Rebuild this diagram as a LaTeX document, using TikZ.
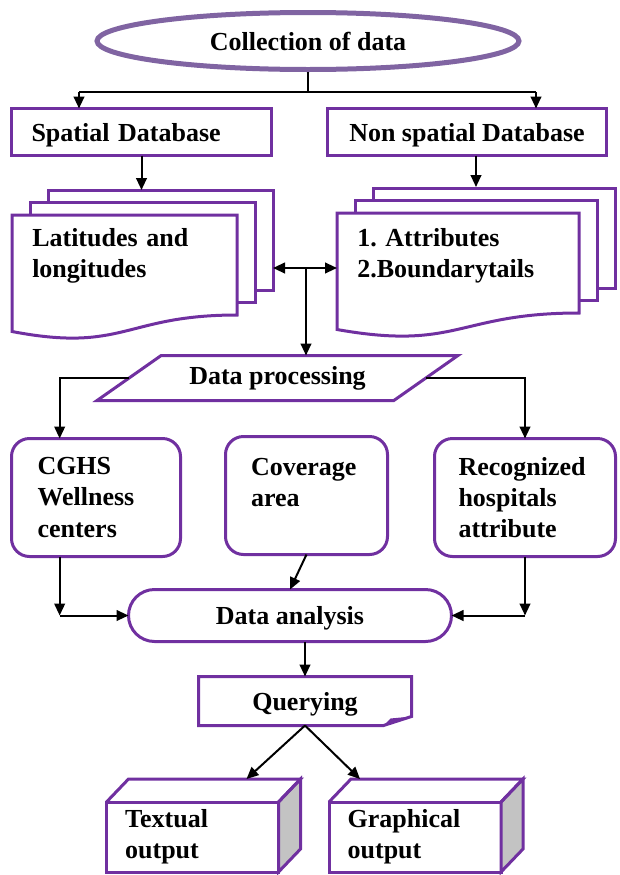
\documentclass[tikz,border=0pt]{standalone}
\usepackage{fontspec}
\setmainfont{Liberation Serif}
\usetikzlibrary{shapes.geometric, arrows.meta, calc}
\definecolor{boxpurple}{RGB}{112,48,160}
\definecolor{ovalpurple}{RGB}{128,100,162}
\definecolor{sidegray}{RGB}{195,195,195}
\tikzstyle{box} = [draw=boxpurple, line width=2.25pt, outer sep=0pt]
\tikzstyle{oval} = [ellipse, draw=ovalpurple, line width=3.75pt, minimum width=316.5pt, minimum height=42.75pt, inner sep=0pt]
\tikzstyle{dbase} = [box, rectangle, align=left, inner xsep=15pt, minimum height=35.25pt, text depth=0pt]
\tikzstyle{io} = [box, trapezium, trapezium left angle=32.6, trapezium right angle=147.4, trapezium stretches=true, minimum width=271.5pt, minimum height=33.75pt]
\tikzstyle{itembox} = [box, rectangle, rounded corners=13.5pt, align=left, minimum height=88.5pt]
\tikzstyle{doctext} = [anchor=west, align=left, inner sep=0pt]
\tikzstyle{termbox} = [box, rectangle, rounded corners=19.5pt, minimum width=242.25pt, minimum height=39pt, text depth=0pt]
\tikzstyle{outbox} = [box, rectangle, align=left, minimum width=129pt, minimum height=52.5pt, inner xsep=13.5pt, text width=101pt]
\tikzstyle{arrow} = [line width=1.5pt, -{Triangle[length=9pt,width=8pt]}]
\tikzstyle{dblarrow} = [line width=1.5pt, {Triangle[length=9pt,width=8pt]}-{Triangle[length=9pt,width=8pt]}]
% stacked pages: left, top, width of the front page
\newcommand{\docstack}[3]{%
  \draw[box] (#1+36,#2-12.5) -- (#1+36,#2-25) -- (#1+36+#3,#2-25) -- (#1+36+#3,#2+75) -- (#1+18+#3,#2+75);
  \draw[box] (#1+18,#2) -- (#1+18,#2-12.5) -- (#1+18+#3,#2-12.5) -- (#1+18+#3,#2+87.5) -- (#1+#3,#2+87.5);
  \draw[box] (#1,#2) -- (#1+#3,#2) -- (#1+#3,#2+100) .. controls (#1+#3/2,#2+100) and (#1+#3/2,#2+138) .. (#1,#2+116.5) -- cycle;
}

\begin{document}
\begin{tikzpicture}[x=0.75pt, y=-0.75pt, font=\fontsize{19.5}{23.5}\selectfont\bfseries]
        \useasboundingbox (0,0) rectangle (620,875);
        \node [oval] at (308,41) (collect) {Collection of data};
        \node [dbase, text width=165pt] at (141.5,132) (spatial) {Spatial Database};
        \node [dbase, minimum width=209.25pt] at (467,132) (nonspatial) {Non spatial Database};
        \docstack{12}{215}{225}
        \docstack{337}{213}{242}
        \node [doctext, text width=140pt] at (32,256) (latlong) {Latitudes and\\longitudes};
        \node [doctext, text width=150pt] at (357,256) (attrs) {1.\ Attributes\\2.Boundarytails};
        \node [io] at (277.5,378) (process) {Data processing};
        \node [itembox, minimum width=126.75pt, inner xsep=19.5pt, text width=87.75pt] at (96,497.5) (cghs) {CGHS\\Wellness\\centers};
        \node [itembox, minimum width=121.5pt, inner xsep=19pt, text width=83.25pt, text depth=42.75pt] at (306.5,495.5) (cover) {Coverage\\area};
        \node [itembox, minimum width=135.75pt, inner xsep=18pt, text width=99.75pt] at (525,497.5) (recog) {Recognized\\hospitals\\attribute};
        \node [termbox] at (290,615.5) (analysis) {Data analysis};
        \node [box, draw=none, minimum width=159.75pt, minimum height=36.75pt, text depth=0pt] at (305,701) (query) {Querying};
        \node [outbox] at (192.5,837) (textual) {Textual\\output};
        \node [outbox] at (415,837) (graphical) {Graphical\\output};

        % folded corner of the query box
        \draw [box] (query.north west) -- (query.north east) -- ($(query.south east)+(0,-9)$) -- ($(query.south east)+(-28,0)$) -- (query.south west) -- cycle;
        \fill [boxpurple] ($(query.south east)+(0,-9)$) -- ($(query.south east)+(-21,-7)$) -- ($(query.south east)+(-28,0)$) -- cycle;

        % cube faces
        \filldraw [box, fill=sidegray] (textual.north east) -- ++(22,-23) -- ($(textual.south east)+(22,-23)$) -- (textual.south east) -- cycle;
        \draw [box] (textual.north west) -- ++(22,-23) -- ($(textual.north east)+(22,-23)$) -- (textual.north east);
        \filldraw [box, fill=sidegray] (graphical.north east) -- ++(22,-23) -- ($(graphical.south east)+(22,-23)$) -- (graphical.south east) -- cycle;
        \draw [box] (graphical.north west) -- ++(22,-23) -- ($(graphical.north east)+(22,-23)$) -- (graphical.north east);

        \coordinate (splitl) at (79,92);
        \coordinate (splitr) at (536,92);
        \coordinate (latin) at (141.5,190);
        \coordinate (attrin) at (476,187);
        \coordinate (latout) at (273,268);
        \coordinate (attrleft) at (337,268);
        \coordinate (hub) at (306,268);
        \coordinate (cghsin) at ($(cghs.north west)!0.285!(cghs.north east)$);
        \coordinate (cghsout) at ($(cghs.south west)!0.285!(cghs.south east)$);
        \coordinate (textin) at ($(textual.north west)+(140,-23)$);
        \coordinate (graphin) at ($(graphical.north west)+(31,-23)$);

        \draw [line width=1.5pt] (collect.south) -- (collect.south |- splitl);
        \draw [line width=1.5pt] (splitl) -- (splitr);
        \draw [arrow] (splitl) -- (splitl |- spatial.north);
        \draw [arrow] (splitr) -- (splitr |- nonspatial.north);
        \draw [arrow] (spatial.south) -- (latin);
        \draw [arrow] (nonspatial.south -| attrin) -- (attrin);
        \draw [dblarrow] (latout) -- (attrleft);
        \draw [arrow] (hub) -- (hub |- process.north);
        \draw [arrow] (process.west) -| (cghsin);
        \draw [arrow] (process.east) -| (recog.north);
        \draw [arrow] (cghsout) -- (cghsout |- analysis.west);
        \draw [arrow] (cghsout |- analysis.west) -- (analysis.west);
        \draw [arrow] (cover.south) -- (analysis.north);
        \draw [arrow] (recog.south) -- (recog.south |- analysis.east);
        \draw [arrow] (recog.south |- analysis.east) -- (analysis.east);
        \draw [arrow] (query.north |- analysis.south) -- (query.north);
        \draw [arrow] (query.south) -- (textin);
        \draw [arrow] (query.south) -- (graphin);
        \end{tikzpicture}
\end{document}
